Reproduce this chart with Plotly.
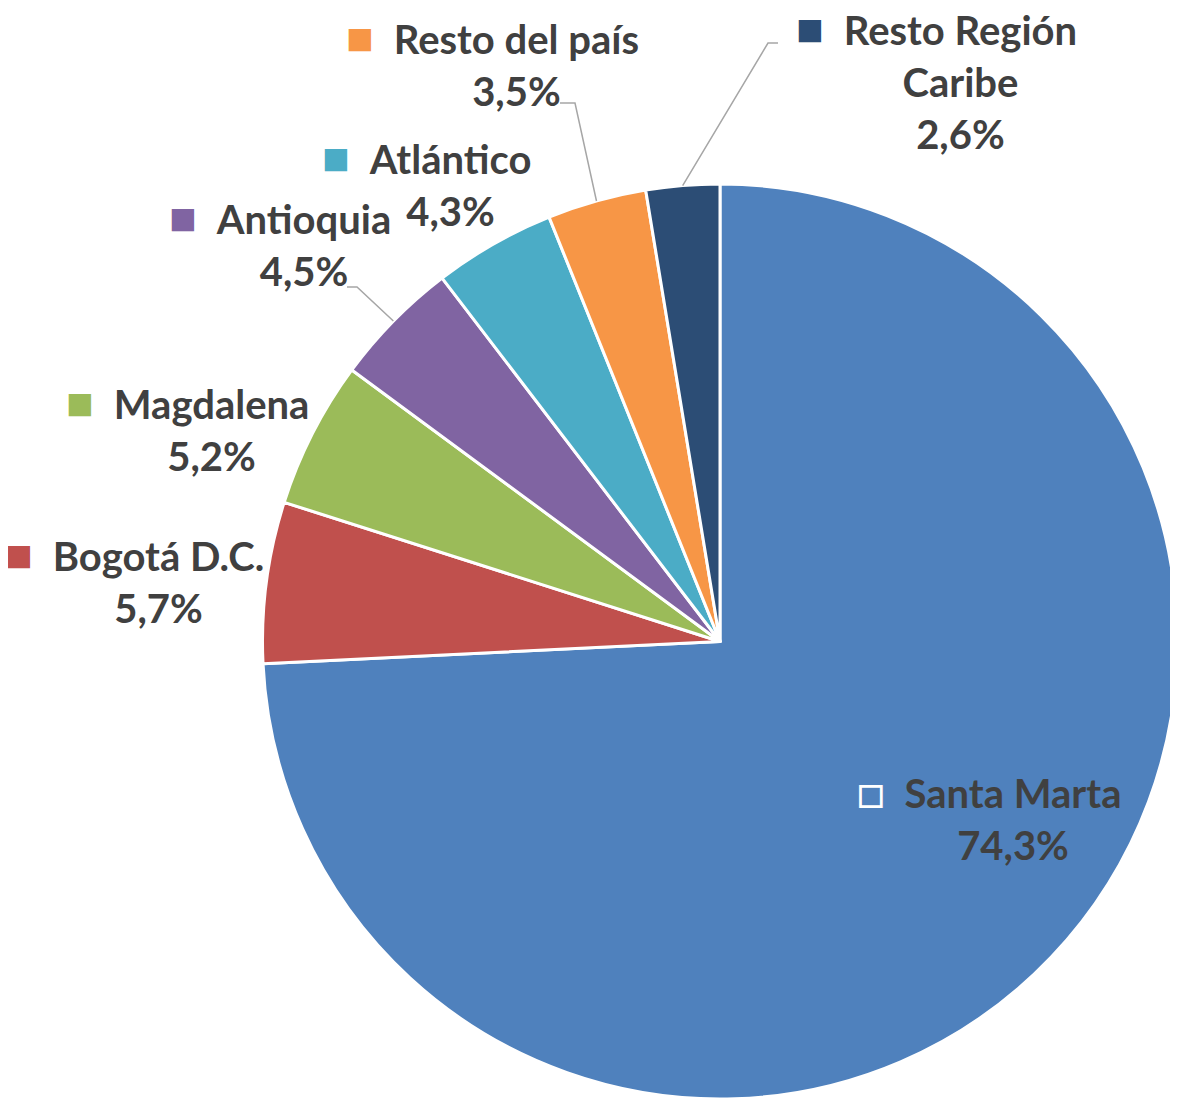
import math
import plotly.graph_objects as go

# datos
regiones = ["Santa Marta", "Bogotá D.C.", "Magdalena", "Antioquia",
            "Atlántico", "Resto del país", "Resto Región Caribe"]
porcentajes = [74.3, 5.7, 5.2, 4.5, 4.3, 3.5, 2.6]
etiquetas = ["Santa Marta", "Bogotá D.C.", "Magdalena", "Antioquia",
             "Atlántico", "Resto del país", "Resto Región<br>Caribe"]
colores = ["#4F81BD", "#C0504D", "#9BBB59", "#8064A2",
           "#4BACC6", "#F79646", "#2C4D75"]

# la pagina tiene 8px de margen en el body
OFF = 8
W, H = 1178 - OFF, 1099 - OFF
CX, CY, R = 720, 642, 458
FONT = "Lato, 'Open Sans', sans-serif"
GRIS = "#404040"
FS = 40

# posicion (px de pagina) del centro de cada etiqueta
pos_etiquetas = [(1013, 816), (158, 579), (211, 427), (304, 242),
                 (450, 182), (516, 62), (960, 79)]
# lineas guia: indice de region -> (inicio, codo) en px de pagina
guias = {3: ((347, 287), (357, 287)),
         5: ((560, 103), (575, 103)),
         6: ((778, 43), (768, 43))}


def px(x, y):
    return (x - OFF) / W, 1 - (y - OFF) / H


def fmt(v):
    return f"{v:.1f}".replace(".", ",") + "%"


x0d, y1d = px(CX - R, CY - R)
x1d, y0d = px(CX + R, CY + R)
fig = go.Figure(go.Pie(
    labels=regiones, values=porcentajes, sort=False, direction="clockwise",
    rotation=0, textinfo="none", hoverinfo="label+percent",
    marker=dict(colors=colores, line=dict(color="white", width=3)),
    domain=dict(x=[max(0, x0d), min(1, x1d)], y=[max(0, y0d), min(1, y1d)]),
    showlegend=False,
))

total = sum(porcentajes)
acum = 0
for i, (reg, v) in enumerate(zip(regiones, porcentajes)):
    mid = 2 * math.pi * (acum + v / 2) / total
    acum += v
    key = "□" if i == 0 else "■"
    key_color = "white" if i == 0 else colores[i]
    lineas = etiquetas[i].split("<br>")
    primera = (f"<span style='color:{key_color};font-size:46px;font-weight:normal'>{key}</span>\u2002{lineas[0]}\u2002"
               f"<span style='color:rgba(0,0,0,0);font-size:46px;font-weight:normal'>{key}</span>")
    texto = "<br>".join([f"<b>{t}</b>" for t in [primera] + lineas[1:] + [fmt(v)]])
    x, y = px(*pos_etiquetas[i])
    fig.add_annotation(x=x, y=y, xref="paper", yref="paper", text=texto,
                       showarrow=False, align="center",
                       xanchor="center", yanchor="middle",
                       font=dict(family=FONT, size=FS, color=GRIS))
    if i in guias:
        (ax0, ay0), (ax1, ay1) = guias[i]
        ax2, ay2 = CX + R * math.sin(mid), CY - R * math.cos(mid)
        p0, p1, p2 = px(ax0, ay0), px(ax1, ay1), px(ax2, ay2)
        fig.add_shape(type="path", xref="paper", yref="paper",
                      path=f"M {p0[0]},{p0[1]} L {p1[0]},{p1[1]} L {p2[0]},{p2[1]}",
                      line=dict(color="#A6A6A6", width=1.5))

fig.update_layout(width=W, height=H, margin=dict(l=0, r=0, t=0, b=0),
                  paper_bgcolor="white", plot_bgcolor="white",
                  font=dict(family=FONT, color=GRIS))

fig.write_html("out.html")
